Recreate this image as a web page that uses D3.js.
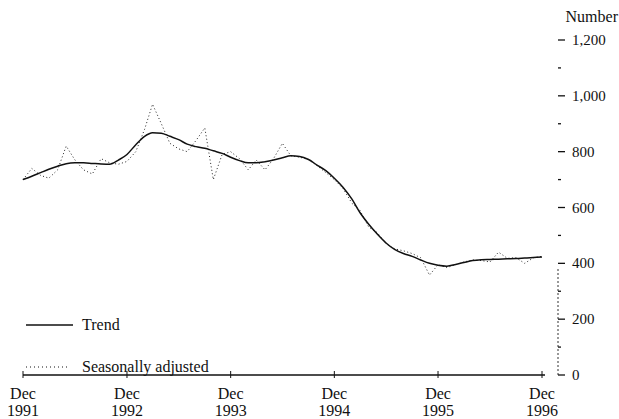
<!DOCTYPE html>
<html>
<head>
<meta charset="utf-8">
<script src="https://cdn.jsdelivr.net/npm/d3@7/dist/d3.min.js"></script>
<style>
  body { margin: 0; background: #fff; }
  svg text { font-family: "Liberation Serif", "DejaVu Serif", serif; fill: #111; }
</style>
</head>
<body>
<script>
// monthly series, Dec 1991 .. Dec 1996
var startMonth = new Date(1991, 11, 1);
var endMonth = new Date(1996, 11, 1);

var trend = [700, 712, 725, 737, 748, 757, 760, 760, 758, 756, 755, 770,
             790, 825, 855, 868, 866, 855, 843, 827, 818, 812, 803, 794,
             780, 768, 760, 760, 764, 770, 778, 785, 783, 772, 752, 732,
             705, 672, 630, 582, 540, 505, 473, 450, 435, 425, 412, 400,
             393, 390, 396, 403, 410, 413, 414, 415, 416, 417, 419, 421,
             423];

var seasAdj = [700, 740, 715, 705, 735, 820, 770, 735, 720, 775, 760, 755,
               765, 800, 880, 970, 900, 830, 810, 800, 840, 885, 700, 790,
               800, 775, 735, 770, 735, 775, 830, 785, 780, 772, 750, 725,
               700, 668, 615, 590, 530, 510, 470, 452, 445, 435, 420, 358,
               395, 385, 395, 405, 412, 410, 405, 440, 418, 420, 400, 420,
               425];

var xTickYears = ["1991", "1992", "1993", "1994", "1995", "1996"];
var yTicks = [0, 200, 400, 600, 800, 1000, 1200];
var yMinorTicks = [100, 300, 500, 700, 900, 1100];
var legendItems = ["Trend", "Seasonally adjusted"];

var width = 619, height = 419;
var svg = d3.select("body").append("svg")
    .attr("width", width)
    .attr("height", height);

var months = d3.timeMonth.range(startMonth, d3.timeMonth.offset(endMonth, 1));

var x = d3.scaleTime()
    .domain([startMonth, endMonth])
    .range([23, 542]);
var y = d3.scaleLinear()
    .domain([0, 1200])
    .range([375, 40]);

// x axis baseline
svg.append("line")
    .attr("x1", x(startMonth)).attr("x2", x(endMonth) + 3)
    .attr("y1", y(0)).attr("y2", y(0))
    .style("stroke", "#111").style("stroke-width", 1.4);

// x ticks and labels (each December)
var xTickDates = xTickYears.map(function(yr) { return new Date(+yr, 11, 1); });
svg.selectAll(".xtick").data(xTickDates).enter().append("line")
    .attr("x1", function(d) { return x(d); })
    .attr("x2", function(d) { return x(d); })
    .attr("y1", y(0) - 4).attr("y2", y(0) + 3)
    .style("stroke", "#111").style("stroke-width", 1);

var xl = svg.selectAll(".xlab").data(xTickDates).enter().append("text")
    .attr("text-anchor", "middle")
    .style("font-size", "16px");
xl.append("tspan")
    .attr("x", function(d) { return x(d); })
    .attr("y", 399)
    .text("Dec");
xl.append("tspan")
    .attr("x", function(d) { return x(d); })
    .attr("y", 416)
    .text(function(d, i) { return xTickYears[i]; });

// right y axis: dotted lower segment, ticks and labels
var axX = 558;
svg.append("line")
    .attr("x1", axX).attr("x2", axX)
    .attr("y1", y(0)).attr("y2", y(380))
    .style("stroke", "#333").style("stroke-width", 1)
    .style("stroke-dasharray", "2,2");

svg.selectAll(".ytick").data(yTicks).enter().append("line")
    .attr("x1", axX).attr("x2", axX + 7)
    .attr("y1", function(d) { return y(d); })
    .attr("y2", function(d) { return y(d); })
    .style("stroke", "#111").style("stroke-width", 1.3);

svg.selectAll(".yminor").data(yMinorTicks).enter().append("line")
    .attr("x1", axX).attr("x2", axX + 3)
    .attr("y1", function(d) { return y(d); })
    .attr("y2", function(d) { return y(d); })
    .style("stroke", "#111").style("stroke-width", 1.3);

svg.selectAll(".ylab").data(yTicks).enter().append("text")
    .attr("x", axX + 14)
    .attr("y", function(d) { return y(d) + 5; })
    .style("font-size", "15px")
    .text(d3.format(",d"));

svg.append("text")
    .attr("x", 618).attr("y", 22)
    .attr("text-anchor", "end")
    .style("font-size", "16px")
    .text("Number");

// series lines
var line = d3.line()
    .x(function(d, i) { return x(months[i]); })
    .y(function(d) { return y(d); });

svg.append("path")
    .datum(seasAdj)
    .attr("d", line.curve(d3.curveLinear))
    .style("fill", "none")
    .style("stroke", "#222")
    .style("stroke-width", 1)
    .style("stroke-dasharray", "1,2.5");

svg.append("path")
    .datum(trend)
    .attr("d", line.curve(d3.curveMonotoneX))
    .style("fill", "none")
    .style("stroke", "#111")
    .style("stroke-width", 1.5);

// legend
var legY = [325, 367];
legendItems.forEach(function(name, i) {
    svg.append("line")
        .attr("x1", 26).attr("x2", i === 0 ? 73 : 70)
        .attr("y1", legY[i]).attr("y2", legY[i])
        .style("stroke", "#111")
        .style("stroke-width", i === 0 ? 1.3 : 1)
        .style("stroke-dasharray", i === 0 ? null : "1,3");
    svg.append("text")
        .attr("x", 82).attr("y", legY[i] + 5)
        .style("font-size", "16px")
        .text(name);
});
</script>
</body>
</html>
